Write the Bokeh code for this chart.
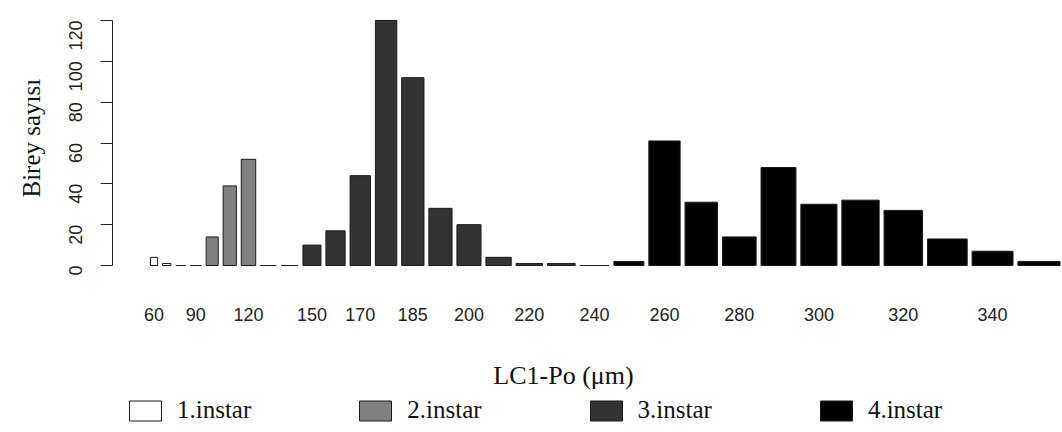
import math
from bokeh.plotting import figure
from bokeh.models import (ColumnDataSource, Range1d, FixedTicker, Legend, LegendItem, Title, Label)
from bokeh.core.properties import value
from bokeh.embed import file_html
from bokeh.resources import INLINE

# ---- data ----
size_classes = [60, 70, 80, 90, 100, 110, 120, 130, 140, 150, 160, 170, 177.5, 185, 192.5,
                200, 210, 220, 230, 240, 250, 260, 270, 280, 290, 300, 310, 320, 330, 340, 350]
counts = [4, 1, 0, 0, 14, 39, 52, 0, 0, 10, 17, 44, 120, 92, 28,
          20, 4, 1, 1, 0, 2, 61, 31, 14, 48, 30, 32, 27, 13, 7, 2]
instar = [1, 1, 1, 1, 2, 2, 2, 2, 2, 3, 3, 3, 3, 3, 3,
          3, 3, 3, 3, 3, 4, 4, 4, 4, 4, 4, 4, 4, 4, 4, 4]
labelled_classes = [60, 90, 120, 150, 170, 185, 200, 220, 240, 260, 280, 300, 320, 340]
instar_names = ["1.instar", "2.instar", "3.instar", "4.instar"]
instar_colors = ["#ffffff", "#808080", "#333333", "#000000"]
y_ticks = [0, 20, 40, 60, 80, 100, 120]

# ---- layout (pixels) ----
FRAME_LEFT, FRAME_TOP, FRAME_W, FRAME_H = 112, 4, 950, 420
X0_PX, X_SCALE = 145.0, 0.1203       # px position of x=0, px per x unit
Y0_PX, Y_SCALE = 265.0, 245.0 / 120   # px position of y=0, px per count


def x_at(px):
    return (px - X0_PX) / X_SCALE


def y_at(py):
    return (Y0_PX - py) / Y_SCALE


# bar layout like R barplot(width = class, space = 0.2)
space = 0.2 * sum(size_classes) / len(size_classes)
lefts, rights, centers = [], [], []
acc = 0.0
for w in size_classes:
    acc += space
    lefts.append(acc)
    rights.append(acc + w)
    centers.append(acc + w / 2)
    acc += w

p = figure(width=1062, height=432, frame_width=FRAME_W, frame_height=FRAME_H,
           output_backend="svg", toolbar_location=None, x_axis_location=None,
           x_range=Range1d(x_at(FRAME_LEFT), x_at(FRAME_LEFT + FRAME_W)),
           y_range=Range1d(y_at(FRAME_TOP + FRAME_H), y_at(FRAME_TOP)),
           min_border_left=FRAME_LEFT, min_border_top=FRAME_TOP, min_border_right=0,
           min_border_bottom=432 - FRAME_TOP - FRAME_H,
           background_fill_color="white", border_fill_color="white")
p.outline_line_color = None
p.grid.visible = False

renderers = []
for k in range(4):
    idx = [i for i in range(len(counts)) if instar[i] == k + 1]
    src = ColumnDataSource(dict(
        left=[lefts[i] for i in idx], right=[rights[i] for i in idx],
        top=[counts[i] for i in idx], bottom=[0] * len(idx)))
    r = p.quad(left="left", right="right", top="top", bottom="bottom", source=src,
               fill_color=instar_colors[k], line_color="#1a1a1a", line_width=1)
    renderers.append(r)

# y axis
ya = p.yaxis[0]
ya.bounds = (0, 120)
ya.ticker = FixedTicker(ticks=y_ticks)
ya.major_tick_out = 12
ya.major_tick_in = 0
ya.minor_tick_line_color = None
ya.axis_line_color = "#222222"
ya.major_tick_line_color = "#222222"
ya.major_label_orientation = math.pi / 2
ya.major_label_text_font = "Liberation Sans"
ya.major_label_text_font_size = "18px"
ya.major_label_text_color = "#222222"
ya.major_label_standoff = 25

ytitle = Title(text="Birey sayısı", align="left", offset=FRAME_TOP + FRAME_H - 197, standoff=30,
               text_font="Liberation Serif", text_font_size="25px", text_font_style="normal",
               text_color="#111111")
p.add_layout(ytitle, "left")

# x tick labels (bar classes) under the bars
lab_x = [c for c, s in zip(centers, size_classes) if s in labelled_classes]
lab_t = [str(int(s)) for s in size_classes if s in labelled_classes]
p.text(x=lab_x, y=[y_at(314)] * len(lab_x), text=lab_t,
       text_font=value("Liberation Sans"), text_font_size="18px", text_color="#222222",
       text_align="center", text_baseline="middle")

# x axis title
p.add_layout(Label(x=x_at(563), y=y_at(375), text="LC1-Po (μm)",
                   text_font="Liberation Serif", text_font_size="26px",
                   text_color="#111111", text_align="center", text_baseline="middle"))

legend = Legend(items=[LegendItem(label=instar_names[k], renderers=[renderers[k]]) for k in range(4)],
                orientation="horizontal", location=(13, 0),
                glyph_width=40, glyph_height=25, label_height=25, label_standoff=12, spacing=104,
                label_text_font="Liberation Serif", label_text_font_size="25px",
                label_text_color="#111111", padding=0, margin=0,
                border_line_alpha=0, background_fill_alpha=0)
p.add_layout(legend)

open("out.html", "w").write(file_html(p, INLINE))
